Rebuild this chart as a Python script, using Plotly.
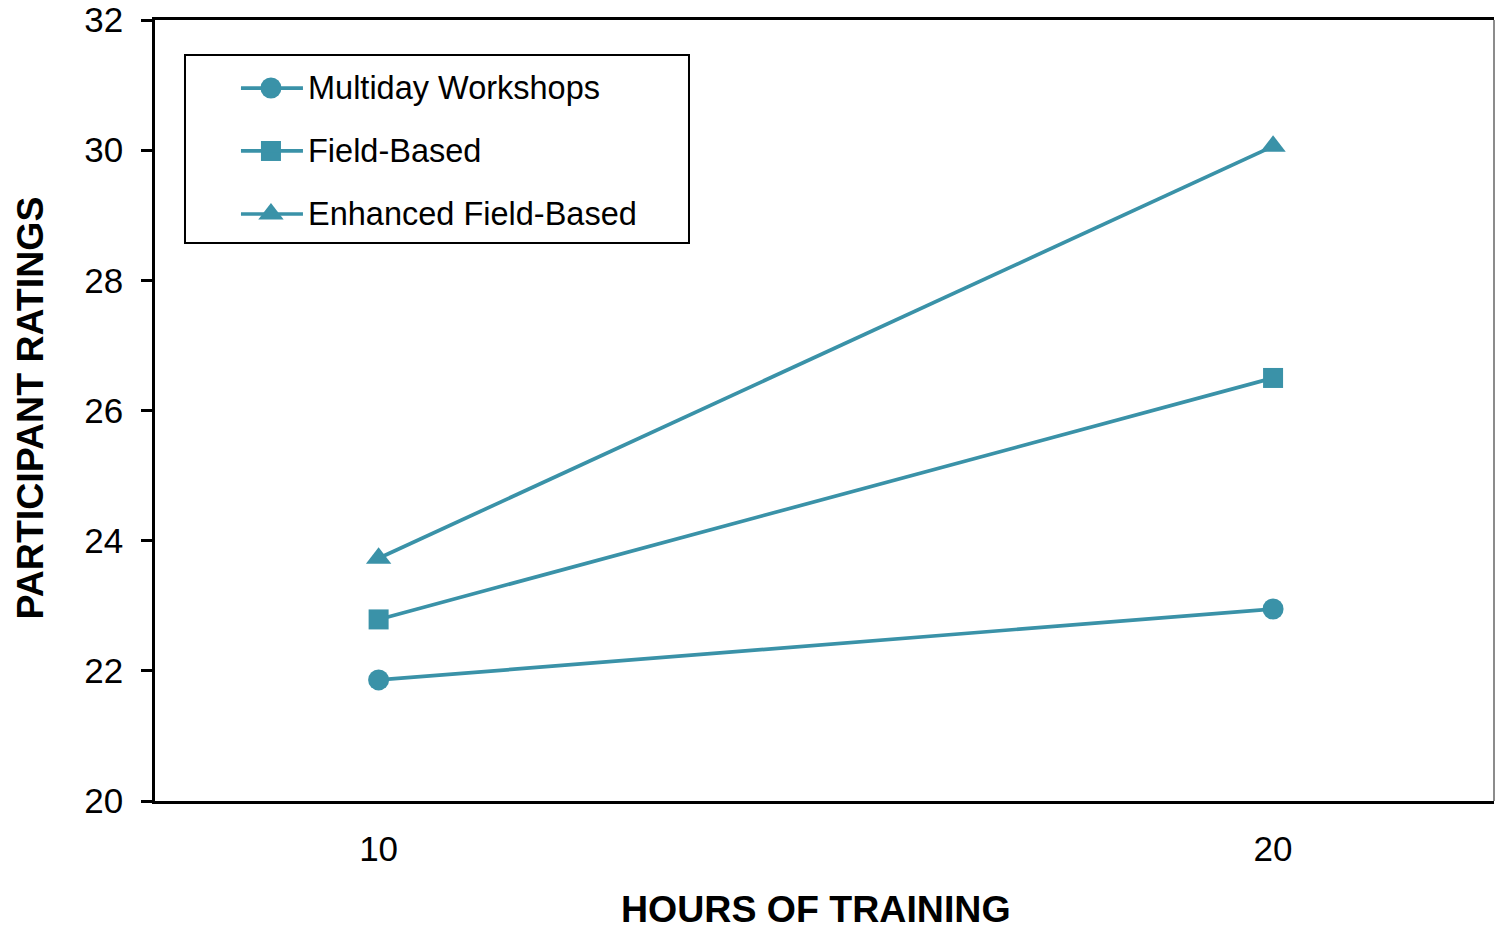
import plotly.graph_objects as go

# Hours of training (x) and mean participant ratings per programme
hours = [10, 20]
hour_labels = ["10", "20"]
multiday_workshops = [21.86, 22.95]
field_based = [22.79, 26.50]
enhanced_field_based = [23.73, 30.06]

series_names = ["Multiday Workshops", "Field-Based", "Enhanced Field-Based"]
series_values = [multiday_workshops, field_based, enhanced_field_based]
series_symbols = ["circle", "square", "triangle-up"]
y_ticks = [20, 22, 24, 26, 28, 30, 32]

TEAL = "#3A92A8"
FONT = "Arial, Liberation Sans, sans-serif"
MARKER_SIZE = {"circle": 21, "square": 20, "triangle-up": 22}
LINE_W = 3.7

fig = go.Figure()

for name, vals, sym in zip(series_names, series_values, series_symbols):
    fig.add_trace(go.Scatter(
        x=hours, y=vals, name=name, mode="lines+markers",
        line=dict(color=TEAL, width=LINE_W),
        marker=dict(symbol=sym, size=MARKER_SIZE[sym], color=TEAL),
        showlegend=False, cliponaxis=False,
    ))

# Hand-built legend in the upper-left corner
LEG_X0, LEG_X1 = 0.0224, 0.3988
LEG_Y0, LEG_Y1 = 0.7145, 0.9552
SWATCH_X0, SWATCH_XC, SWATCH_X1 = 0.0642, 0.0866, 0.1105
TEXT_X = 0.1128
ROW_Y = [0.9129, 0.8323, 0.7516]

shapes = [
    dict(type="rect", xref="paper", yref="paper",
         x0=LEG_X0, x1=LEG_X1, y0=LEG_Y0, y1=LEG_Y1,
         line=dict(color="black", width=2), fillcolor="white", layer="below"),
    dict(type="line", xref="paper", yref="paper",
         x0=1, x1=1, y0=0, y1=1, line=dict(color="#666666", width=1.5)),
]

annotations = []
for name, sym, ry in zip(series_names, series_symbols, ROW_Y):
    shapes.append(dict(
        type="line", xref="paper", yref="paper",
        x0=SWATCH_X0, x1=SWATCH_X1, y0=ry, y1=ry,
        line=dict(color=TEAL, width=LINE_W),
    ))
    fig.add_trace(go.Scatter(
        x=[SWATCH_XC], y=[ry], xaxis="x2", yaxis="y2", mode="markers",
        marker=dict(symbol=sym, size=MARKER_SIZE[sym], color=TEAL),
        showlegend=False, hoverinfo="skip",
    ))
    annotations.append(dict(
        text=name, xref="paper", yref="paper", x=TEXT_X, y=ry,
        xanchor="left", yanchor="middle", showarrow=False,
        font=dict(size=32.5, color="black", family=FONT),
    ))

# Axis titles
annotations.append(dict(
    text="<b>HOURS OF TRAINING</b>", xref="paper", yref="paper",
    x=0.4937, y=-0.1383, xanchor="center", yanchor="middle", showarrow=False,
    font=dict(size=37.5, color="black", family=FONT),
))
annotations.append(dict(
    text="<b>PARTICIPANT RATINGS</b>", xref="paper", yref="paper",
    x=-0.0934, y=0.5038, xanchor="center", yanchor="middle", showarrow=False,
    textangle=-90, font=dict(size=37.5, color="black", family=FONT),
))

fig.update_layout(
    width=1495, height=930,
    margin=dict(l=155, r=1, t=20, b=129),
    paper_bgcolor="white", plot_bgcolor="white",
    font=dict(family=FONT, color="black"),
    showlegend=False,
    xaxis=dict(
        range=[7.5, 22.47], tickvals=hours, ticktext=hour_labels,
        showline=True, linecolor="black", linewidth=2.5, mirror=True,
        ticks="", showgrid=False, zeroline=False,
        tickfont=dict(size=35, color="black"), ticklabelstandoff=15,
    ),
    yaxis=dict(
        range=[20, 32], tickvals=y_ticks,
        showline=True, linecolor="black", linewidth=2.5,
        ticks="outside", ticklen=11, tickwidth=2.5, tickcolor="black",
        showgrid=False, zeroline=False,
        tickfont=dict(size=35, color="black"), ticklabelstandoff=11,
    ),
    xaxis2=dict(range=[0, 1], overlaying="x", anchor="y2", visible=False),
    yaxis2=dict(range=[0, 1], overlaying="y", anchor="x2", visible=False),
    shapes=shapes,
    annotations=annotations,
)

fig.write_html("out.html")
